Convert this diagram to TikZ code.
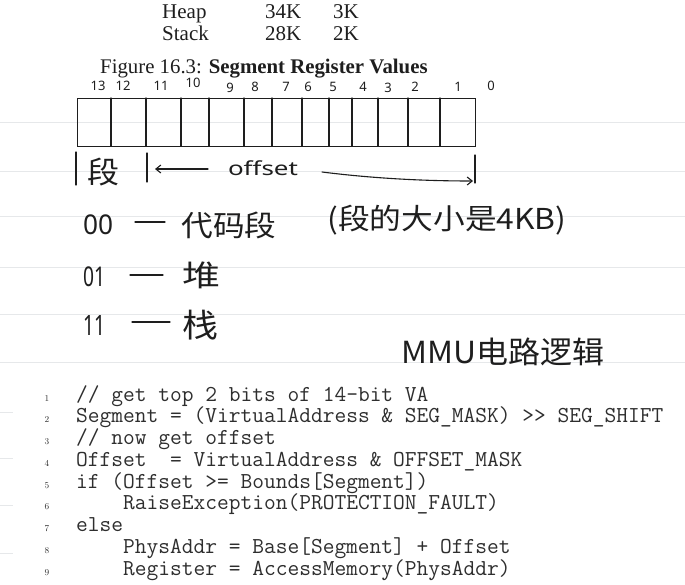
\documentclass[tikz,border=0pt]{standalone}
\usepackage{fontspec}
\usepackage{graphicx}
\newfontfamily\cjk{Noto Sans CJK SC}
\newfontfamily\hand{Noto Sans}
\newfontfamily\book{Liberation Serif}
\usetikzlibrary{arrows.meta}
\newcommand{\hwtext}[3]{\resizebox*{#1}{#2}{#3}}
\definecolor{ink}{HTML}{1E1E1E}
\definecolor{rulecol}{HTML}{E6E8EA}
\definecolor{codecol}{HTML}{2E2E2E}
\tikzset{
  printed/.style={inner sep=0pt, anchor=base west, text=ink, font=\book\fontsize{21}{21}\selectfont},
  bitnum/.style={inner sep=0pt, text=ink, font=\hand\fontsize{13}{13}\selectfont},
  handw/.style={inner sep=0pt, text=ink},
  pen/.style={draw=ink, line width=1.1pt, line cap=round},
  ruled/.style={draw=rulecol, line width=0.8pt},
  codeline/.style={inner sep=0pt, anchor=base west, text=codecol, font=\ttfamily\fontsize{22.8}{23}\selectfont},
  lineno/.style={inner sep=0pt, anchor=base, text=codecol, font=\fontsize{9}{9}\selectfont},
}
\begin{document}
\begin{tikzpicture}[x=1pt,y=-1pt]
\useasboundingbox (0,0) rectangle (685,584);
\fill[white] (0,0) rectangle (685,584);
% notebook ruling
\foreach \yy in {122,171,216,267,314,362}{\draw[ruled] (0,\yy) -- (685,\yy);}
\foreach \yy in {412,458,505,553}{\draw[ruled] (0,\yy) -- (13,\yy);}
% printed table rows
\node[printed] (heap) at (162,18) {Heap};
\node[printed] (heapsz) at (265,18) {34K};
\node[printed] (heapb) at (333,18) {3K};
\node[printed] (stack) at (162,40) {Stack};
\node[printed] (stacksz) at (265,40) {28K};
\node[printed] (stackb) at (333,40) {2K};
\node[printed, font=\book\fontsize{20.8}{20.8}\selectfont] (caption) at (100,73) {Figure 16.3: \textbf{Segment Register Values}};
% bit numbers
\foreach \lab/\xx/\yy in {13/98/86,12/123/86,11/161/86,10/193/83,9/230/88,8/255/87,7/286/87,6/308/87,5/333/87,4/363/87,3/388/88,2/415/87,1/458/87,0/491/86}{
  \node[bitnum] (b\lab) at (\xx,\yy) {\lab};
}
% register box
\node[pen, draw, minimum width=398pt, minimum height=48pt, anchor=north west] (reg) at (77,98) {};
\foreach \xx in {111,146,181,209,244,272,302,329,352,378,408,440}{
  \draw[pen] (\xx,98) -- (\xx,146);
}
% brackets under the box
\coordinate (t1a) at (76,152); \coordinate (t1b) at (76,185);
\coordinate (t2a) at (147,153); \coordinate (t2b) at (147,182);
\coordinate (t3a) at (475,155); \coordinate (t3b) at (475,183);
\draw[pen] (t1a) -- (t1b);
\draw[pen] (t2a) -- (t2b);
\draw[pen] (t3a) -- (t3b);
\node[handw] (seg) at (103,172) {\hwtext{32pt}{28pt}{\cjk 段}};
\node[handw] (offs) at (263,168) {\hwtext{70pt}{15pt}{\hand offset}};
\coordinate (la) at (208,169); \coordinate (lb) at (155,169);
\draw[pen, -{Straight Barb[length=5pt,width=8pt]}] (la) -- (lb);
\coordinate (ra) at (322,172); \coordinate (rb) at (473,181);
\draw[pen, -{Straight Barb[length=5pt,width=8pt]}] (ra) .. controls (370,178) and (420,181) .. (rb);
% segment codes
\node[handw] (c00) at (98,225) {\hwtext{30pt}{20pt}{\hand 00}};
\coordinate (d0a) at (135,222); \coordinate (d0b) at (165,222);
\draw[pen] (d0a) -- (d0b);
\node[handw] (code) at (229,225) {\hwtext{95pt}{27pt}{\cjk 代码段}};
\node[handw] (note) at (447,220) {\hwtext{239pt}{30pt}{\cjk (段的大小是4KB)}};
\node[handw] (c01) at (94,277) {\hwtext{22pt}{20pt}{\hand 01}};
\coordinate (d1a) at (130,275); \coordinate (d1b) at (163,275);
\draw[pen] (d1a) -- (d1b);
\node[handw] (heapcn) at (201,275) {\hwtext{38pt}{27pt}{\cjk 堆}};
\node[handw] (c11) at (94,325) {\hwtext{22pt}{20pt}{\hand 11}};
\coordinate (d2a) at (132,322); \coordinate (d2b) at (170,322);
\draw[pen] (d2a) -- (d2b);
\node[handw] (stackcn) at (200,325) {\hwtext{36pt}{30pt}{\cjk 栈}};
\node[handw] (mmu) at (503,352) {\hwtext{203pt}{28pt}{\cjk MMU电路逻辑}};
% code listing
\foreach \n/\txt [count=\i from 0] in {
  1/{// get top 2 bits of 14-bit VA},
  2/{Segment = (VirtualAddress \& SEG\_MASK) >{}> SEG\_SHIFT},
  3/{// now get offset},
  4/{Offset\ \ = VirtualAddress \& OFFSET\_MASK},
  5/{if (Offset >= Bounds[Segment])},
  6/{\ \ \ \ RaiseException(PROTECTION\_FAULT)},
  7/{else},
  8/{\ \ \ \ PhysAddr = Base[Segment] + Offset},
  9/{\ \ \ \ Register = AccessMemory(PhysAddr)}}{
  \pgfmathsetmacro{\yb}{401+21.75*\i}
  \node[lineno] (n\n) at (47,\yb) {\n};
  \node[codeline] (l\n) at (76,\yb) {\txt};
}
\end{tikzpicture}
\end{document}
